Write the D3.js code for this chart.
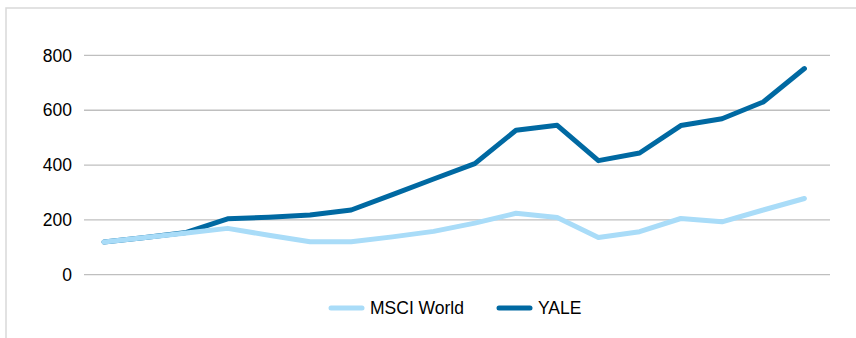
<!DOCTYPE html>
<html>
<head>
<meta charset="utf-8">
<script src="https://cdn.jsdelivr.net/npm/d3@7"></script>
<style>
  html, body { margin: 0; padding: 0; background: #fff; }
  svg { display: block; }
  text { font-family: "Liberation Sans", Arial, Helvetica, sans-serif; fill: #000; }
</style>
</head>
<body>
<svg id="chart" width="856" height="338"></svg>
<script>
const categories = ["1","2","3","4","5","6","7","8","9","10","11","12","13","14","15","16","17","18"];
const msciWorld = [119, 136, 152, 169, 144, 120, 120, 138, 158, 188, 224, 209, 136, 157, 205, 193, 236, 278];
const yale      = [119, 136, 154, 204, 210, 218, 236, 292, 349, 405, 527, 545, 416, 444, 544, 569, 630, 752];
const yTicks = [0, 200, 400, 600, 800];
const seriesNames = ["MSCI World", "YALE"];
const seriesColors = ["#a9dcf8", "#0069a2"];

const svg = d3.select("#chart");

// outer frame
svg.append("rect")
  .attr("x", 6).attr("y", 8)
  .attr("width", 900).attr("height", 400)
  .attr("fill", "none").attr("stroke", "#d9d9d9").attr("stroke-width", 1.5);

const x = d3.scalePoint().domain(categories).range([104, 804.4]);
const y = d3.scaleLinear().domain([0, 800]).range([274.7, 55.4]);

// gridlines
svg.append("g").selectAll("line").data(yTicks).join("line")
  .attr("x1", 84).attr("x2", 830)
  .attr("y1", d => y(d)).attr("y2", d => y(d))
  .attr("stroke", "#bfbfbf").attr("stroke-width", 1.3);

// y axis labels
const yAxis = d3.axisLeft(y).tickValues(yTicks).tickSize(0).tickPadding(0);
const gy = svg.append("g").attr("transform", "translate(72,0)").call(yAxis);
gy.select(".domain").remove();
gy.selectAll("text")
  .attr("font-size", "17.5px")
  .attr("font-family", '"Liberation Sans", Arial, sans-serif')
  .attr("fill", "#000");

const line = d3.line().x((d, i) => x(categories[i])).y(d => y(d));

// YALE drawn first, MSCI on top
[[yale, seriesColors[1]], [msciWorld, seriesColors[0]]].forEach(([data, color]) => {
  svg.append("path")
    .datum(data)
    .attr("d", line)
    .attr("fill", "none")
    .attr("stroke", color)
    .attr("stroke-width", 5)
    .attr("stroke-linejoin", "round")
    .attr("stroke-linecap", "round");
});

// legend
const legendItems = [
  { name: seriesNames[0], color: seriesColors[0], x: 331 },
  { name: seriesNames[1], color: seriesColors[1], x: 499 }
];
const lg = svg.append("g");
legendItems.forEach(it => {
  lg.append("line")
    .attr("x1", it.x).attr("x2", it.x + 31)
    .attr("y1", 308).attr("y2", 308)
    .attr("stroke", it.color).attr("stroke-width", 5)
    .attr("stroke-linecap", "round");
  lg.append("text")
    .attr("x", it.x + 39).attr("y", 308)
    .attr("dy", "0.35em")
    .attr("font-size", "17.5px")
    .text(it.name);
});
</script>
</body>
</html>
